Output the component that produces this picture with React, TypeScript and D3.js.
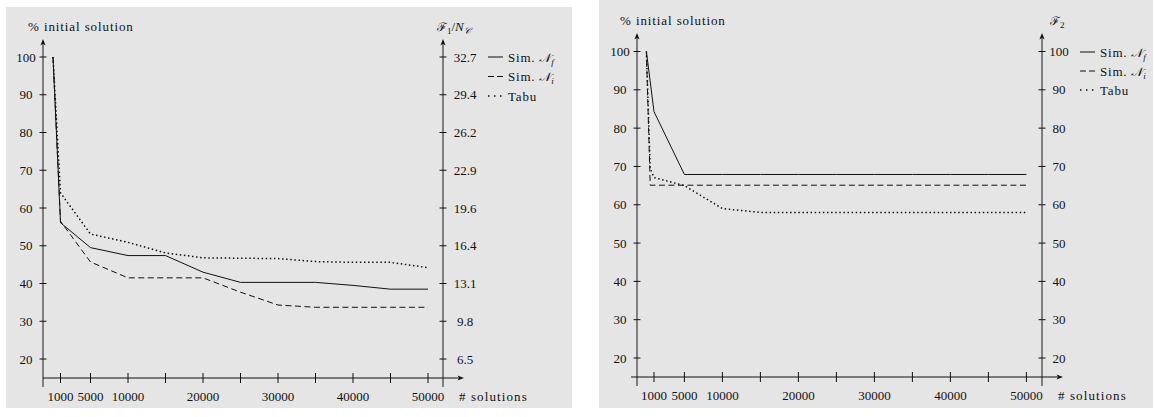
import React from 'react';
import * as d3 from 'd3';

// number of solutions evaluated (x values)
const solutions = [0, 1000, 5000, 10000, 15000, 20000, 25000, 30000, 35000, 40000, 45000, 50000];
const xTicks = [1000, 5000, 10000, 15000, 20000, 25000, 30000, 35000, 40000, 45000, 50000];
const xTickLabels = ['1000', '5000', '10000', '', '20000', '', '30000', '', '40000', '', '50000'];
const yTicks = [20, 30, 40, 50, 60, 70, 80, 90, 100];

// left chart: F1 / N_C
const f1SimNf = [100, 56.1, 49.5, 47.4, 47.4, 43.0, 40.3, 40.3, 40.3, 39.5, 38.5, 38.5];
const f1SimNi = [100, 56.5, 45.7, 41.5, 41.5, 41.5, 37.7, 34.3, 33.7, 33.7, 33.7, 33.7];
const f1Tabu = [100, 64.0, 53.1, 50.9, 48.1, 46.8, 46.7, 46.6, 45.8, 45.6, 45.6, 44.2];
const f1RightLabels = ['6.5', '9.8', '13.1', '16.4', '19.6', '22.9', '26.2', '29.4', '32.7'];

// right chart: F2
const f2SimNfX = solutions;
const f2SimNf = [100, 84.3, 67.9, 67.9, 67.9, 67.9, 67.9, 67.9, 67.9, 67.9, 67.9, 67.9];
const f2SimNiX = [0, 500, 50000];
const f2SimNi = [100, 65.1, 65.1];
const f2TabuX = [0, 500, 1000, 5000, 10000, 15000, 20000, 25000, 30000, 35000, 40000, 45000, 50000];
const f2Tabu = [100, 69.5, 67.1, 65.0, 59.0, 58.0, 58.0, 58.0, 58.0, 58.0, 58.0, 58.0, 58.0];
const f2RightLabels = ['20', '30', '40', '50', '60', '70', '80', '90', '100'];

const legendNames = ['Nf', 'Ni', 'Tabu'];

const styles = [
  { dash: undefined, width: 1 },
  { dash: '6 3.5', width: 1 },
  { dash: '1.5 2.6', width: 1.5 },
];
const legendDash = [undefined, '6 3', '1.5 4.5'];

const serif = "'Liberation Serif', Tinos, 'Noto Serif', 'DejaVu Serif', 'Times New Roman', Times, serif";

const leftGeo = {
  bg: [6, 7, 566, 401], xRange: [53, 428], yRange: [359, 57],
  yAxisX: 43, rightAxisX: 443, xAxisY: 378, xAxisStart: 43, xArrowEnd: 464, yArrowTop: 39, axisBottom: 387,
  leftLabelX: 26, rightLabelX: 465, titleY: 31, titleX: 28, rightTitleX: 437,
  legLineX: 488, legTextX: 508, legY: 57, legDy: 19.5, solX: 459,
};
const rightGeo = {
  bg: [599, 0, 554, 408], xRange: [646.4, 1026.4], yRange: [358, 51.5],
  yAxisX: 637, rightAxisX: 1042, xAxisY: 377, xAxisStart: 631, xArrowEnd: 1063, yArrowTop: 33, axisBottom: 386,
  leftLabelX: 620, rightLabelX: 1059, titleY: 25, titleX: 620, rightTitleX: 1050,
  legLineX: 1080, legTextX: 1100, legY: 52, legDy: 19, solX: 1058,
};

function upArrow(x: number, top: number) {
  return `M${x},${top} L${x + 2.6},${top + 6.5} L${x},${top + 4.8} L${x - 2.6},${top + 6.5} Z`;
}
function rightArrow(x: number, yy: number) {
  return `M${x},${yy} L${x - 6.5},${yy - 2.6} L${x - 4.8},${yy} L${x - 6.5},${yy + 2.6} Z`;
}

function LegendText({ name }: { name: string }) {
  if (name === 'Tabu') return <>Tabu</>;
  return (
    <>
      Sim.{' '}
      <tspan fontStyle="italic" fontSize={12}>𝒩</tspan>
      <tspan fontStyle="italic" fontSize={9} dy={3}>{name[1]}</tspan>
    </>
  );
}

function Panel({ id, g, series, rightLabels, rightTitle }: any) {
  const x = d3.scaleLinear().domain([0, 50000]).range(g.xRange);
  const y = d3.scaleLinear().domain([20, 100]).range(g.yRange);
  const line = d3.line<[number, number]>().x(d => x(d[0])).y(d => y(d[1]));
  const [bx, by, bw, bh] = g.bg;
  const axisColor = '#3a3a3a';

  return (
    <g>
      <defs>
        <clipPath id={id}>
          <rect x={bx} y={by} width={bw} height={bh} />
        </clipPath>
      </defs>
      <rect x={bx} y={by} width={bw} height={bh} fill="#e5e5e5" />
      <g clipPath={`url(#${id})`}>
        {/* axes */}
        <line x1={g.yAxisX} x2={g.yAxisX} y1={g.yArrowTop + 3} y2={g.axisBottom} stroke={axisColor} strokeWidth={1.2} />
        <path d={upArrow(g.yAxisX, g.yArrowTop)} fill="#111" />
        <line x1={g.rightAxisX} x2={g.rightAxisX} y1={g.yArrowTop + 3} y2={g.axisBottom} stroke={axisColor} strokeWidth={1.2} />
        <path d={upArrow(g.rightAxisX, g.yArrowTop)} fill="#111" />
        <line x1={g.xAxisStart} x2={g.xArrowEnd - 3} y1={g.xAxisY} y2={g.xAxisY} stroke="#111" strokeWidth={1} />
        <path d={rightArrow(g.xArrowEnd, g.xAxisY)} fill="#111" />

        {/* y ticks */}
        {yTicks.map((t, i) => (
          <g key={'y' + t}>
            <line x1={g.yAxisX - 3.5} x2={g.yAxisX + 3.5} y1={y(t)} y2={y(t)} stroke="#111" />
            <text x={g.leftLabelX} y={y(t)} dy="0.35em" textAnchor="middle">{t}</text>
            <line x1={g.rightAxisX - 3.5} x2={g.rightAxisX + 3.5} y1={y(t)} y2={y(t)} stroke="#111" />
            <text x={g.rightLabelX} y={y(t)} dy="0.35em" textAnchor="middle">{rightLabels[i]}</text>
          </g>
        ))}

        {/* x ticks */}
        {xTicks.map((t, i) => (
          <g key={'x' + t}>
            <line x1={x(t)} x2={x(t)} y1={g.xAxisY - 5} y2={g.xAxisY + 5} stroke="#111" />
            <text x={x(t)} y={g.xAxisY + 23} textAnchor="middle">{xTickLabels[i]}</text>
          </g>
        ))}

        {/* titles */}
        <text x={g.titleX} y={g.titleY} letterSpacing={0.9}>% initial solution</text>
        <text x={g.rightTitleX} y={g.titleY}>{rightTitle}</text>
        <text x={g.solX} y={g.xAxisY + 23} letterSpacing={1.1}># solutions</text>

        {/* series */}
        {series.map((s: any, i: number) => (
          <path key={'s' + i}
            d={line(s.xs.map((v: number, j: number) => [v, s.ys[j]]) as [number, number][]) || ''}
            fill="none" stroke="#111" strokeWidth={styles[i].width} strokeDasharray={styles[i].dash} />
        ))}

        {/* legend */}
        {legendNames.map((n, i) => (
          <g key={'l' + n}>
            <line x1={g.legLineX} x2={g.legLineX + 15} y1={g.legY + i * g.legDy} y2={g.legY + i * g.legDy}
              stroke="#111" strokeWidth={styles[i].width} strokeDasharray={legendDash[i]} />
            <text x={g.legTextX} y={g.legY + i * g.legDy} dy="0.35em" letterSpacing={0.8}>
              <LegendText name={n} />
            </text>
          </g>
        ))}
      </g>
    </g>
  );
}

export default function App() {
  const leftSeries = [
    { xs: solutions, ys: f1SimNf },
    { xs: solutions, ys: f1SimNi },
    { xs: solutions, ys: f1Tabu },
  ];
  const rightSeries = [
    { xs: f2SimNfX, ys: f2SimNf },
    { xs: f2SimNiX, ys: f2SimNi },
    { xs: f2TabuX, ys: f2Tabu },
  ];
  return (
    <svg width={1155} height={417} style={{ position: 'absolute', left: 0, top: 0, background: '#fff', fontFamily: serif }}
      fontSize={13} fill="#111">
      <Panel id="clipL" g={leftGeo} series={leftSeries} rightLabels={f1RightLabels}
        rightTitle={<>
          <tspan fontSize={12}>ℱ</tspan>
          <tspan fontSize={9} dy={3}>1</tspan>
          <tspan dy={-3}>/</tspan>
          <tspan fontStyle="italic">N</tspan>
          <tspan fontStyle="italic" fontSize={9} dy={3}>𝒞</tspan>
        </>} />
      <Panel id="clipR" g={rightGeo} series={rightSeries} rightLabels={f2RightLabels}
        rightTitle={<>
          <tspan fontSize={12}>ℱ</tspan>
          <tspan fontSize={9} dy={3}>2</tspan>
        </>} />
    </svg>
  );
}
